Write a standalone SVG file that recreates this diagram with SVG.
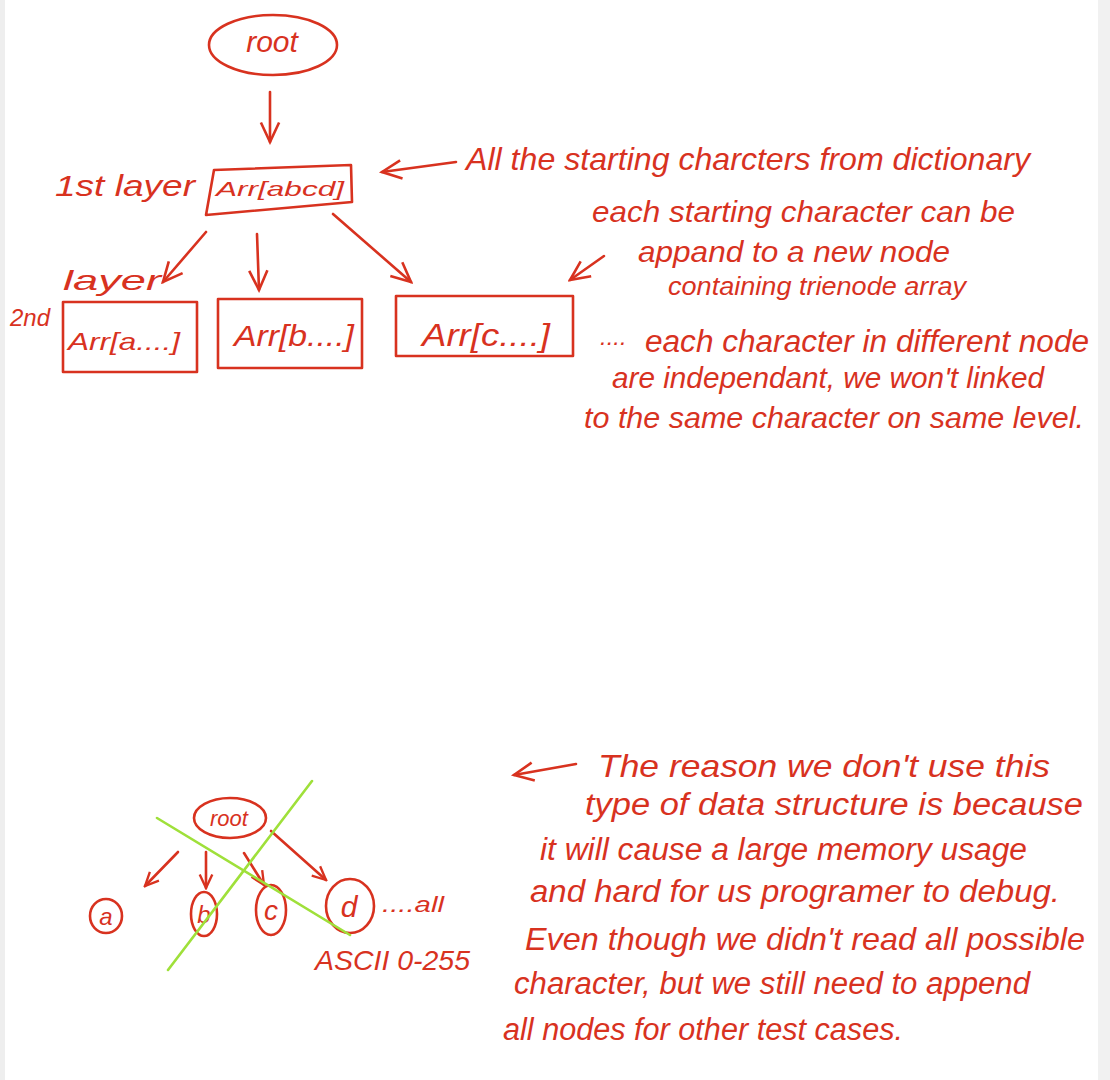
<svg xmlns="http://www.w3.org/2000/svg" width="1110" height="1080" viewBox="0 0 1110 1080">
<style>
.ink{fill:none;stroke:#d8321f;stroke-width:2.6;stroke-linecap:round;stroke-linejoin:round}
.green{fill:none;stroke:#9fe03a;stroke-width:2.6;stroke-linecap:round}
.t{fill:#d8321f;font-family:"Liberation Sans",Arial,sans-serif;font-style:italic}
</style>
<defs>
<marker id="ahs" viewBox="0 0 20 20" refX="18" refY="10" markerWidth="26" markerHeight="26" markerUnits="userSpaceOnUse" orient="auto">
<path d="M3,3 L18,10 L3,17" fill="none" stroke="#d8321f" stroke-width="2"/>
</marker>
<marker id="ahm" viewBox="0 0 20 20" refX="18" refY="10" markerWidth="18" markerHeight="18" markerUnits="userSpaceOnUse" orient="auto">
<path d="M3,3 L18,10 L3,17" fill="none" stroke="#d8321f" stroke-width="2.6"/>
</marker>
</defs>
<rect x="0" y="0" width="1110" height="1080" fill="#ffffff"/>
<rect x="0" y="0" width="5" height="1080" fill="#eeeeee"/>
<rect x="1098" y="0" width="12" height="1080" fill="#f1f1f1"/>

<g id="connectors">
<path class="ink" d="M270,92 L270,142" marker-end="url(#ahs)"/>
<path class="ink" d="M456,162 L382,172" marker-end="url(#ahs)"/>
<path class="ink" d="M206,232 L163,282" marker-end="url(#ahs)"/>
<path class="ink" d="M257,234 L259,290" marker-end="url(#ahs)"/>
<path class="ink" d="M333,214 L411,282" marker-end="url(#ahs)"/>
<path class="ink" d="M604,256 L570,280" marker-end="url(#ahs)"/>
<path class="ink" d="M178,852 L145,886" marker-end="url(#ahm)"/>
<path class="ink" d="M206,852 L206,888" marker-end="url(#ahm)"/>
<path class="ink" d="M244,853 L264,885" marker-end="url(#ahm)"/>
<path class="ink" d="M271,831 L326,880" marker-end="url(#ahm)"/>
<path class="ink" d="M576,764 L514,775" marker-end="url(#ahs)"/>
</g>

<g id="root1">
<ellipse class="ink" cx="273" cy="45" rx="64" ry="30"/>
<text class="t" x="272" y="52" font-size="30" text-anchor="middle">root</text>
</g>
<g id="arr-abcd">
<path class="ink" d="M214,170 L351,165 L352,202 L206,215 Z"/>
<text class="t" x="216" y="196" font-size="21" textLength="128" lengthAdjust="spacingAndGlyphs">Arr[abcd]</text>
</g>
<g id="label-1st">
<text class="t" x="55" y="196" font-size="30" textLength="140" lengthAdjust="spacingAndGlyphs">1st layer</text>
</g>
<g id="label-2nd">
<text class="t" x="10" y="326" font-size="24">2nd</text>
<text class="t" x="63" y="290" font-size="28" textLength="98" lengthAdjust="spacingAndGlyphs">layer</text>
</g>
<g id="arr-a">
<rect class="ink" x="63" y="302" width="134" height="70"/>
<text class="t" x="68" y="350" font-size="24" textLength="112" lengthAdjust="spacingAndGlyphs">Arr[a....]</text>
</g>
<g id="arr-b">
<rect class="ink" x="218" y="299" width="144" height="69"/>
<text class="t" x="234" y="346" font-size="30" textLength="120" lengthAdjust="spacingAndGlyphs">Arr[b....]</text>
</g>
<g id="arr-c">
<rect class="ink" x="396" y="296" width="177" height="60"/>
<text class="t" x="422" y="346" font-size="32" textLength="128" lengthAdjust="spacingAndGlyphs">Arr[c....]</text>
</g>
<g id="note-all">
<text class="t" x="466" y="170" font-size="32" textLength="564" lengthAdjust="spacingAndGlyphs">All the starting charcters from dictionary</text>
</g>
<g id="note-each">
<text class="t" x="592" y="222" font-size="29" textLength="423" lengthAdjust="spacingAndGlyphs">each starting character  can be</text>
<text class="t" x="638" y="262" font-size="29" textLength="312" lengthAdjust="spacingAndGlyphs">appand to a new node</text>
<text class="t" x="668" y="295" font-size="25" textLength="298" lengthAdjust="spacingAndGlyphs">containing trienode array</text>
</g>
<g id="note-independent">
<text class="t" x="600" y="345" font-size="24">....</text>
<text class="t" x="645" y="352" font-size="31" textLength="444" lengthAdjust="spacingAndGlyphs">each character in different node</text>
<text class="t" x="612" y="388" font-size="30" textLength="432" lengthAdjust="spacingAndGlyphs">are independant, we won't linked</text>
<text class="t" x="584" y="428" font-size="30" textLength="500" lengthAdjust="spacingAndGlyphs">to the same character on same level.</text>
</g>

<g id="root2">
<ellipse class="ink" cx="230" cy="818" rx="36" ry="20"/>
<text class="t" x="229" y="826" font-size="22" text-anchor="middle">root</text>
</g>
<g id="node-a">
<ellipse class="ink" cx="106" cy="916" rx="16" ry="17"/>
<text class="t" x="106" y="925" font-size="24" text-anchor="middle">a</text>
</g>
<g id="node-b">
<ellipse class="ink" cx="204" cy="914" rx="13" ry="22"/>
<text class="t" x="204" y="923" font-size="24" text-anchor="middle">b</text>
</g>
<g id="node-c">
<ellipse class="ink" cx="271" cy="910" rx="15" ry="25"/>
<text class="t" x="271" y="920" font-size="28" text-anchor="middle">c</text>
</g>
<g id="node-d">
<ellipse class="ink" cx="350" cy="906" rx="24" ry="27"/>
<text class="t" x="349" y="917" font-size="30" text-anchor="middle">d</text>
</g>
<g id="label-all">
<text class="t" x="382" y="912" font-size="22" textLength="62" lengthAdjust="spacingAndGlyphs">....all</text>
</g>
<g id="label-ascii">
<text class="t" x="315" y="970" font-size="28" textLength="155" lengthAdjust="spacingAndGlyphs">ASCII 0-255</text>
</g>
<g id="cross">
<path class="green" d="M157,818 L350,935"/>
<path class="green" d="M312,781 L168,970"/>
</g>
<g id="note-reason">
<text class="t" x="598" y="777" font-size="32" textLength="452" lengthAdjust="spacingAndGlyphs">The reason we don't use this</text>
<text class="t" x="585" y="815" font-size="31" textLength="498" lengthAdjust="spacingAndGlyphs">type of data structure is because</text>
<text class="t" x="540" y="860" font-size="31" textLength="487" lengthAdjust="spacingAndGlyphs">it will cause a large memory usage</text>
<text class="t" x="530" y="902" font-size="31" textLength="530" lengthAdjust="spacingAndGlyphs">and hard for us programer to debug.</text>
<text class="t" x="525" y="950" font-size="32" textLength="560" lengthAdjust="spacingAndGlyphs">Even though we didn't read all possible</text>
<text class="t" x="514" y="994" font-size="31" textLength="516" lengthAdjust="spacingAndGlyphs">character, but we still need to append</text>
<text class="t" x="503" y="1040" font-size="31" textLength="400" lengthAdjust="spacingAndGlyphs">all nodes for other test cases.</text>
</g>
</svg>
